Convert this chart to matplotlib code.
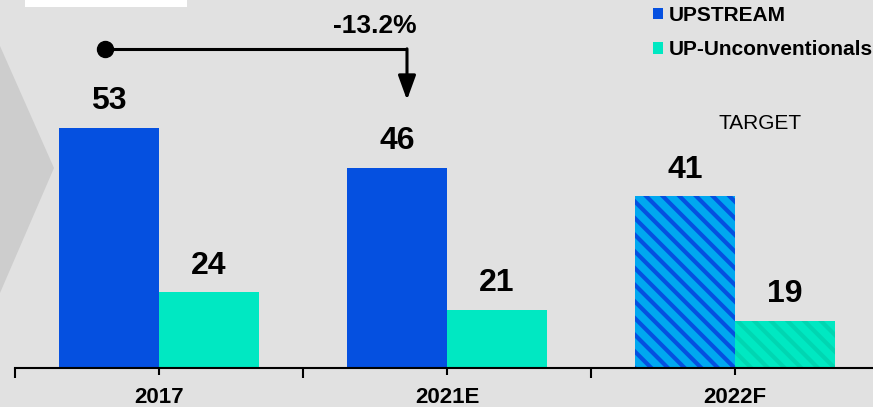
import matplotlib
matplotlib.use("Agg")
import matplotlib.pyplot as plt
from matplotlib.patches import Polygon, Rectangle

plt.rcParams['font.family'] = ['Liberation Sans', 'DejaVu Sans']
plt.rcParams['hatch.linewidth'] = 3.0

# data
years = ["2017", "2021E", "2022F"]
upstream = [53, 46, 41]
unconv = [24, 21, 19]

blue = "#0550e0"
light_blue = "#00a8f0"
teal = "#00e8c2"
teal_dark = "#00d6b2"
bg = "#e1e1e1"

W, H = 873, 407
fig = plt.figure(figsize=(W / 100, H / 100), dpi=100, facecolor=bg)

# decorative background shapes
fig.add_artist(Polygon([(0, 1 - 46 / H), (54 / W, 1 - 168 / H), (0, 1 - 293 / H)],
                       closed=True, transform=fig.transFigure, color="#cdcdcd", lw=0))
fig.add_artist(Rectangle((25 / W, 1 - 7 / H), 162 / W, 7 / H,
                         transform=fig.transFigure, color="white", lw=0))

ax = fig.add_axes([15 / W, 39 / H, 858 / W, 368 / H])
ax.set_facecolor("none")

x = list(range(len(years)))
w = 0.347
b1 = ax.bar([i - w / 2 for i in x], upstream, w, color=blue, lw=0, label="UPSTREAM")
b2 = ax.bar([i + w / 2 for i in x], unconv, w, color=teal, lw=0, label="UP-Unconventionals")

# target year is hatched
b1[2].set_facecolor(light_blue)
b1[2].set_edgecolor(blue)
b1[2].set_hatch("\\\\")
b2[2].set_edgecolor(teal_dark)
b2[2].set_hatch("\\\\")

for bars, vals in ((b1, upstream), (b2, unconv)):
    for r, v in zip(bars, vals):
        ax.annotate(str(v), (r.get_x() + r.get_width() / 2, v), xytext=(0, 19),
                    textcoords="offset points", ha="center", va="center",
                    fontsize=23, fontweight="bold")

ax.set_xlim(-0.5, 2.479)
ax.set_ylim(10.7, 75.5)

for s in ("top", "right", "left"):
    ax.spines[s].set_visible(False)
ax.spines["bottom"].set_linewidth(1.5)
ax.set_yticks([])
ax.set_xticks(x)
ax.set_xticklabels(years, fontsize=16, fontweight="bold")
ax.set_xticks([-0.5, 0.5, 1.5], minor=True)
ax.tick_params(axis="x", which="major", length=5, width=1.5, pad=8.5)
ax.tick_params(axis="x", which="minor", length=7.5, width=1.5)

# change bracket
change = (upstream[1] - upstream[0]) / upstream[0] * 100
x0, x1 = -0.1875, 0.861
ytop = 66.9
ax.plot([x0, x1], [ytop, ytop], color="black", lw=2.2, solid_capstyle="butt")
ax.plot([x0], [ytop], "o", color="black", ms=11.5)
ax.annotate("", xy=(x1, 57.9), xytext=(x1, ytop),
            arrowprops=dict(arrowstyle="-|>,head_length=0.55,head_width=0.2",
                            lw=2.2, color="black", mutation_scale=27,
                            shrinkA=0, shrinkB=0))
ax.text(0.75, 70.9, f"{change:.1f}%", ha="center", va="center",
        fontsize=19, fontweight="bold")

ax.text(2.087, 53.8, "TARGET", ha="center", va="center", fontsize=15)

leg = ax.legend(handles=[b1, b2], loc="upper left",
                bbox_to_anchor=(653 / W, 1 - 6 / H), bbox_transform=fig.transFigure,
                frameon=False, borderpad=0, borderaxespad=0,
                handlelength=0.48, handleheight=0.48, handletextpad=0.29,
                labelspacing=0.74, prop={"size": 15, "weight": "bold"})

fig.savefig("out.png", dpi=100, facecolor=bg)
